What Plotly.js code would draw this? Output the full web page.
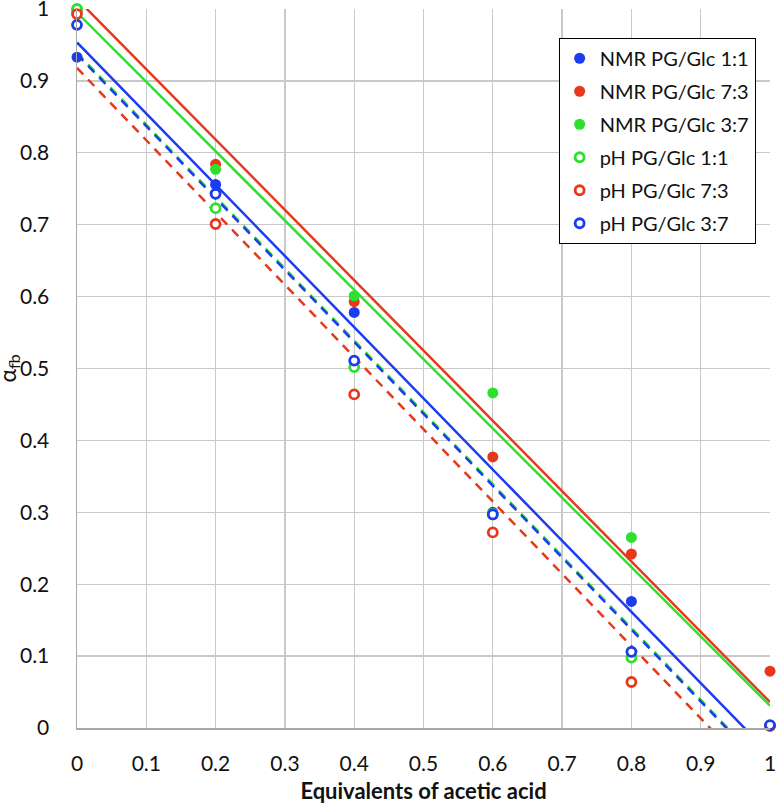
<!DOCTYPE html>
<html>
<head>
<meta charset="utf-8">
<script src="https://cdn.plot.ly/plotly-3.0.1.min.js"></script>
<style>
  html, body { margin: 0; padding: 0; background: #fff; }
  #chart { width: 776px; height: 806px; }
</style>
</head>
<body>
<div id="chart"></div>
<script>
// equivalents of acetic acid
var xEq = [0, 0.2, 0.4, 0.6, 0.8, 1];

// alpha_fb values
var nmr11 = [0.933, 0.756, 0.578, 0.300, 0.176, 0.003];
var nmr73 = [0.996, 0.784, 0.593, 0.377, 0.242, 0.079];
var nmr37 = [1.000, 0.777, 0.601, 0.466, 0.265, 0.003];
var ph11  = [1.000, 0.723, 0.502, 0.298, 0.098, 0.003];
var ph73  = [0.993, 0.701, 0.464, 0.272, 0.064, 0.003];
var ph37  = [0.978, 0.743, 0.511, 0.297, 0.106, 0.004];

var seriesNames = ['NMR PG/Glc 1:1', 'NMR PG/Glc 7:3', 'NMR PG/Glc 3:7',
                   'pH PG/Glc 1:1', 'pH PG/Glc 7:3', 'pH PG/Glc 3:7'];

// linear trendlines (intercept, slope)
var fitIntercept = [0.9535, 1.014, 0.995, 0.939, 0.918, 0.937];
var fitSlope     = [-0.990, -0.978, -0.964, -1.000, -1.005, -1.000];

var blue = '#1c3cf0', red = '#e8381c', green = '#2ee02e';
var colors = [blue, red, green, green, red, blue];
var allY = [nmr11, nmr73, nmr37, ph11, ph73, ph37];

var data = [];

// trendlines first (under the markers)
for (var i = 0; i < 6; i++) {
  var fx = [xEq[0], xEq[xEq.length - 1]];
  var fy = fx.map(function (v) { return fitIntercept[i] + fitSlope[i] * v; });
  data.push({
    x: fx, y: fy,
    type: 'scatter', mode: 'lines',
    line: { color: colors[i], width: 2.5, dash: i < 3 ? 'solid' : '9px,7px' },
    showlegend: false, hoverinfo: 'skip'
  });
}

// points
for (var j = 0; j < 6; j++) {
  var filled = j < 3;
  data.push({
    x: xEq, y: allY[j],
    name: seriesNames[j],
    type: 'scatter', mode: 'markers',
    cliponaxis: false,
    legendgroup: 'g' + j,
    marker: filled
      ? { symbol: 'circle', size: 11, color: colors[j] }
      : { symbol: 'circle', size: 9, color: '#fff', line: { color: colors[j], width: 2.8 } }
  });
}

var layout = {
  width: 776, height: 806,
  margin: { l: 77, r: 6, t: 9, b: 78 },
  paper_bgcolor: '#fff', plot_bgcolor: '#fff',
  font: { family: 'Lato, Carlito, sans-serif', size: 21, color: '#111' },
  xaxis: {
    range: [0, 1], dtick: 0.1, tick0: 0,
    showgrid: true, gridcolor: '#c9c9c9', gridwidth: 1.3,
    zeroline: false, showline: true, linecolor: '#a8a8a8', linewidth: 1.5,
    ticks: '', ticklabelstandoff: 16, ticklabeloverflow: 'allow',
    tickfont: { size: 21 },
    title: { text: '<b>Equivalents of acetic acid</b>', font: { size: 22 }, standoff: 10 }
  },
  yaxis: {
    range: [0, 1], dtick: 0.1, tick0: 0,
    showgrid: true, gridcolor: '#c9c9c9', gridwidth: 1.3,
    zeroline: false, showline: true, linecolor: '#a8a8a8', linewidth: 1.5,
    ticks: '', ticklabelstandoff: 22, ticklabeloverflow: 'allow',
    tickfont: { size: 21 }
  },
  annotations: [{
    text: 'α<sub>fb</sub>', textangle: -90, showarrow: false,
    xref: 'paper', yref: 'paper', x: 0, y: 0.5,
    xanchor: 'center', yanchor: 'middle', xshift: -69,
    font: { size: 23, color: '#111' }
  }],
  legend: {
    x: 0.695, y: 0.96, xanchor: 'left', yanchor: 'top',
    bgcolor: '#fff', bordercolor: '#000', borderwidth: 1,
    traceorder: 'grouped', tracegroupgap: 4,
    font: { size: 20 }
  }
};

Plotly.newPlot('chart', data, layout, { displayModeBar: false, staticPlot: true });
</script>
</body>
</html>
